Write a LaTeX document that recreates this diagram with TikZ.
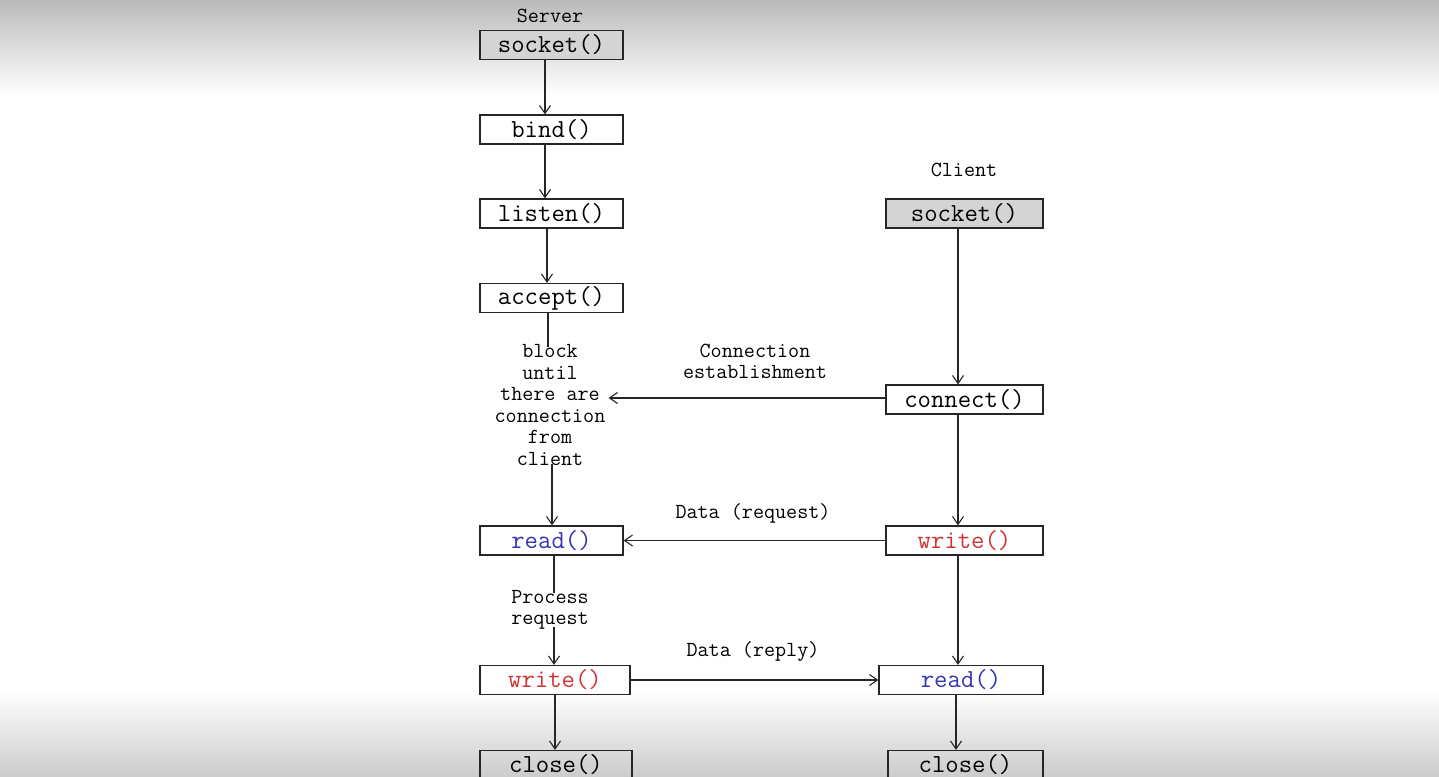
\documentclass[tikz,border=0pt]{standalone}
\usepackage{fontspec}
\usetikzlibrary{arrows.meta}
\definecolor{boxgray}{HTML}{D4D4D4}
\definecolor{readblue}{HTML}{3535B5}
\definecolor{writered}{HTML}{D03535}
\tikzset{
  fnbox/.style={draw=black!85, line width=1.2pt, minimum height=29pt, inner sep=0pt,
     font=\ttfamily\fontsize{26}{28}\selectfont},
  graybox/.style={fnbox, fill=boxgray},
  lbl/.style={inner sep=0pt, align=center, font=\ttfamily\fontsize{21.5}{21.6}\selectfont},
  conn/.style={line width=1.1pt, draw=black!85},
  arr/.style={conn, -{Straight Barb[length=8pt,width=11pt,line width=1.1pt]}},
}
\begin{document}
\begin{tikzpicture}[x=1pt,y=-1pt]
\useasboundingbox (0,0) rectangle (1439,776);
\clip (0,0) rectangle (1439,776);
% background video shading
\fill[white] (0,0) rectangle (1439,776);
\shade[top color=black!27, bottom color=white] (0,0) rectangle (1439,95);
\shade[top color=white, bottom color=black!20] (0,690) rectangle (1439,776);

% server column
\node[lbl] (srvlbl) at (550,16) {Server};
\node[graybox, minimum width=143pt] (ssock) at (551.5,45) {socket()};
\node[fnbox, minimum width=143pt] (sbind) at (551.5,129.5) {bind()};
\node[fnbox, minimum width=143pt] (slisten) at (551.5,213.5) {listen()};
\node[fnbox, minimum width=143pt] (saccept) at (551.5,298) {accept()};
\node[lbl] (block) at (550,405) {block\\until\\there are\\connection\\from\\client};
\node[fnbox, minimum width=143pt, text=readblue] (sread) at (551.5,540.5) {read()};
\node[lbl] (proc) at (550,610) {Process\\request};
\node[fnbox, minimum width=150pt, text=writered] (swrite) at (555,680) {write()};
\node[fnbox, minimum width=152pt] (sclose) at (556,765) {close()};

% client column
\node[lbl] (clilbl) at (964,170) {Client};
\node[graybox, minimum width=157pt] (csock) at (964.5,213.5) {socket()};
\node[fnbox, minimum width=157pt] (cconn) at (964.5,399.5) {connect()};
\node[fnbox, minimum width=157pt, text=writered] (cwrite) at (964.5,540.5) {write()};
\node[fnbox, minimum width=164pt, text=readblue] (cread) at (961,680) {read()};
\node[fnbox, minimum width=155pt] (cclose) at (965.5,765) {close()};

% middle labels
\node[lbl] (connlbl) at (755,361.5) {Connection\\establishment};
\node[lbl] (reqlbl) at (753,513) {Data (request)};
\node[lbl] (replbl) at (753,651) {Data (reply)};

% server flow
\draw[arr] ([xshift=-6.5pt]ssock.south) -- ([xshift=-6.5pt]sbind.north);
\draw[arr] ([xshift=-6.5pt]sbind.south) -- ([xshift=-6.5pt]slisten.north);
\draw[arr] ([xshift=-4.5pt]slisten.south) -- ([xshift=-4.5pt]saccept.north);
\draw[conn] ([xshift=-3.5pt]saccept.south) -- ([xshift=-3.5pt,yshift=-3pt]saccept.south |- block.north);
\draw[arr] ([xshift=0.5pt,yshift=2pt]sread.north |- block.south) -- ([xshift=0.5pt]sread.north);
\draw[conn] ([xshift=2.5pt]sread.south) -- ([xshift=2.5pt,yshift=-3pt]sread.south |- proc.north);
\draw[arr] ([xshift=2.5pt,yshift=3pt]sread.south |- proc.south) -- ([xshift=2.5pt]sread.south |- swrite.north);
\draw[arr] (swrite.south) -- (swrite.south |- sclose.north);

% client flow
\draw[arr] ([xshift=-6.5pt]csock.south) -- ([xshift=-6.5pt]cconn.north);
\draw[arr] ([xshift=-6.5pt]cconn.south) -- ([xshift=-6.5pt]cwrite.north);
\draw[arr] ([xshift=-6.5pt]cwrite.south) -- ([xshift=-6.5pt]cwrite.south |- cread.north);
\draw[arr] ([xshift=-5pt]cread.south) -- ([xshift=-5pt]cread.south |- cclose.north);

% messages
\draw[arr] ([yshift=1.5pt]cconn.west) -- ([xshift=3pt,yshift=1.5pt]cconn.west -| block.east);
\draw[arr] (cwrite.west) -- (sread.east);
\draw[arr] (swrite.east) -- (cread.west);
\end{tikzpicture}
\end{document}
